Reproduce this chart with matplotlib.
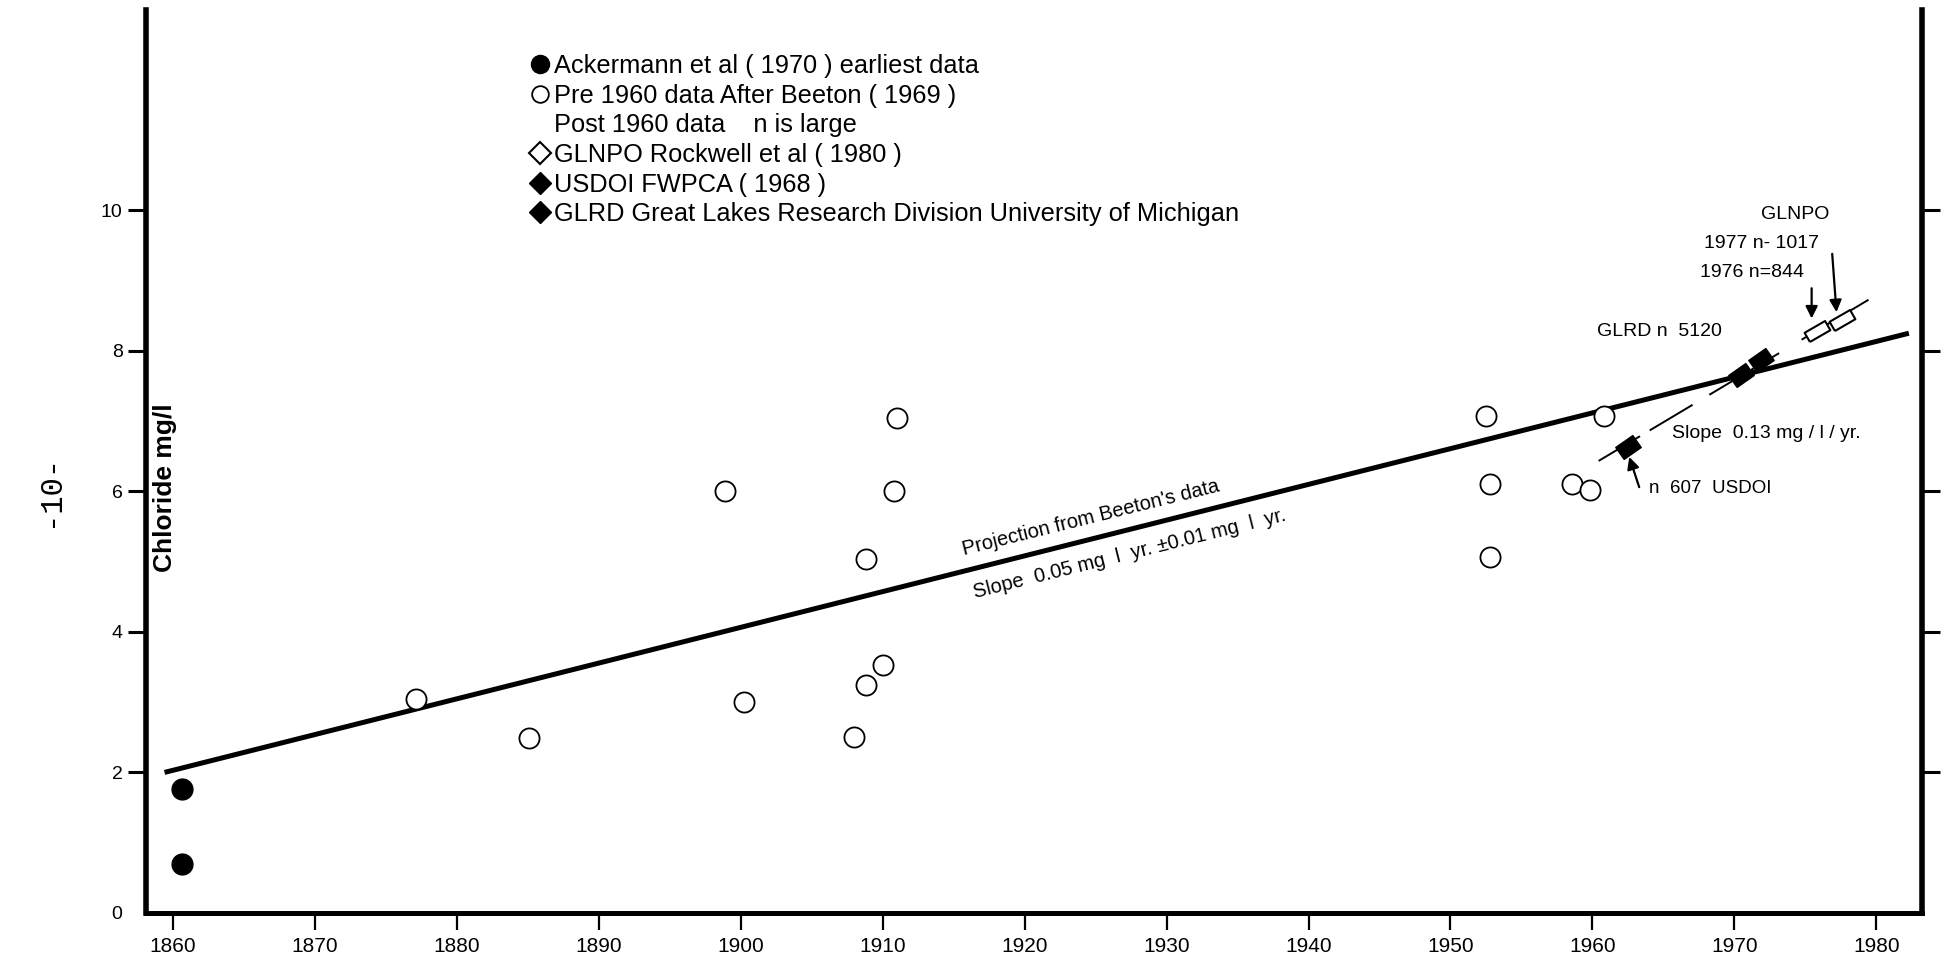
import matplotlib
matplotlib.use("Agg")
import matplotlib.pyplot as plt
from matplotlib.lines import Line2D
from matplotlib.markers import MarkerStyle
from matplotlib.transforms import Affine2D
import numpy as np

# Ackermann et al (1970) earliest data
ack_year = [1860.6, 1860.6]
ack_cl = [1.77, 0.70]

# Pre 1960 data after Beeton (1969)
beeton_year = [1877.1, 1885.1, 1898.9, 1900.2, 1908.0, 1908.8, 1908.8, 1910.0,
               1910.8, 1911.0, 1952.5, 1952.8, 1952.8, 1958.6, 1959.8, 1960.8]
beeton_cl = [3.04, 2.49, 6.01, 3.00, 2.51, 3.25, 5.04, 3.53,
             6.01, 7.05, 7.07, 6.10, 5.07, 6.11, 6.02, 7.07]

# GLNPO Rockwell et al (1980), 1976 and 1977
glnpo_year = [1975.8, 1977.6]
glnpo_cl = [8.28, 8.44]

# USDOI FWPCA (1968)
usdoi_year = [1962.5]
usdoi_cl = [6.63]

# GLRD Great Lakes Research Division
glrd_year = [1970.5, 1971.9]
glrd_cl = [7.65, 7.87]

# projection from Beeton's data (slope 0.05 mg/l/yr)
proj_year = [1859.4, 1982.3]
proj_cl = [2.00, 8.25]

# post 1960 trend (slope ~0.13 mg/l/yr), drawn as broken pieces
post_year0, post_cl0, post_slope = 1960.5, 6.44, 0.1206
post_seg_start = [1960.5, 1964.1, 1968.3, 1974.8]
post_seg_end = [1963.3, 1967.0, 1973.1, 1979.4]

x_ticks = list(range(1860, 1990, 10))
y_ticks = [0, 2, 4, 6, 8, 10]

legend_labels = [
    "Ackermann et al ( 1970 ) earliest data",
    "Pre 1960 data After Beeton ( 1969 )",
    "Post 1960 data    n is large",
    "GLNPO Rockwell et al ( 1980 )",
    "USDOI FWPCA ( 1968 )",
    "GLRD Great Lakes Research Division University of Michigan",
]

plain = ["Liberation Sans", "DejaVu Sans"]

fig = plt.figure(figsize=(19.43, 9.61), dpi=100)
ax = fig.add_axes([0.0752, 0.05, 0.9138, 0.9396])

# tilted box markers like the hand drawn ones
rect_open = MarkerStyle([(-1, -0.45), (1, -0.45), (1, 0.45), (-1, 0.45), (-1, -0.45)],
                        transform=Affine2D().rotate_deg(30))
rect_fill = MarkerStyle([(-1, -0.7), (1, -0.7), (1, 0.7), (-1, 0.7), (-1, -0.7)],
                        transform=Affine2D().rotate_deg(35))

ax.plot(proj_year, proj_cl, color="black", lw=3.6, solid_capstyle="butt", zorder=2)
for a, b in zip(post_seg_start, post_seg_end):
    xs = np.array([a, b])
    ax.plot(xs, post_cl0 + post_slope * (xs - post_year0), color="black", lw=1.4, zorder=2)

ax.plot(ack_year, ack_cl, "o", ms=15, color="black", zorder=3)
ax.plot(beeton_year, beeton_cl, "o", ms=14.5, mfc="white", mec="black", mew=1.3,
        zorder=3, linestyle="none")
ax.plot(glnpo_year, glnpo_cl, linestyle="none", marker=rect_open, ms=17, mfc="white",
        mec="black", mew=1.5, zorder=3)
ax.plot(usdoi_year, usdoi_cl, linestyle="none", marker=rect_fill, ms=15, color="black", zorder=3)
ax.plot(glrd_year, glrd_cl, linestyle="none", marker=rect_fill, ms=15, color="black", zorder=3)

# annotations on the right
ax.text(1974.3, 9.94, "GLNPO", fontsize=14, family=plain, ha="center", va="center")
ax.text(1967.85, 9.52, "1977 n- 1017", fontsize=14, family=plain, ha="left", va="center")
ax.text(1967.55, 9.11, "1976 n=844", fontsize=14, family=plain, ha="left", va="center")
ax.text(1960.3, 8.28, "GLRD n  5120", fontsize=14, family=plain, ha="left", va="center")
ax.text(1965.6, 6.82, "Slope  0.13 mg / l / yr.", fontsize=14, family=plain, ha="left", va="center")
ax.text(1964.0, 6.04, "n  607  USDOI", fontsize=13.5, family=plain, ha="left", va="center")

arrow = dict(arrowstyle="-|>", color="black", lw=1.6, mutation_scale=18, shrinkA=0, shrinkB=0)
ax.annotate("", xy=(1975.45, 8.46), xytext=(1975.45, 8.89), arrowprops=arrow)
ax.annotate("", xy=(1977.2, 8.55), xytext=(1976.9, 9.38), arrowprops=arrow)
ax.annotate("", xy=(1962.6, 6.49), xytext=(1963.3, 6.06), arrowprops=arrow)

# text along the projection line
ax.text(1924.7, 5.62, "Projection from Beeton's data", fontsize=14.5, family=plain,
        rotation=14, ha="center", va="center", rotation_mode="anchor")
ax.text(1927.4, 5.11, "Slope  0.05 mg  l  yr. \u00b10.01 mg  l  yr.", fontsize=14.5, family=plain,
        rotation=14, ha="center", va="center", rotation_mode="anchor")

ax.text(1859.45, 6.05, "Chloride mg/l", fontsize=19, family=plain, fontweight="bold",
        rotation=90, ha="center", va="center")

# legend block
handles = [
    Line2D([], [], ls="none", marker="o", ms=13, color="black"),
    Line2D([], [], ls="none", marker="o", ms=12, mfc="white", mec="black", mew=1.3),
    Line2D([], [], ls="none"),
    Line2D([], [], ls="none", marker="D", ms=11, mfc="white", mec="black", mew=1.5),
    Line2D([], [], ls="none", marker="D", ms=11, color="black"),
    Line2D([], [], ls="none", marker="D", ms=11, color="black"),
]
leg = ax.legend(handles, legend_labels, loc="upper left", bbox_to_anchor=(0.2178, 0.951),
                frameon=False, handlelength=0.6, handletextpad=0.25, labelspacing=0.22,
                borderpad=0, borderaxespad=0, prop={"family": plain, "size": 18.3})

# axes styling
ax.set_xlim(1858.1, 1983.2)
ax.set_ylim(0, 12.85)
ax.set_xticks(x_ticks)
ax.set_xticklabels([str(t) for t in x_ticks], family=plain, fontsize=15)
ax.set_yticks(y_ticks)
ax.set_yticklabels([str(t) for t in y_ticks], family=plain, fontsize=14)
ax.yaxis.get_major_ticks()[0].tick1line.set_visible(False)
ax.tick_params(axis="x", direction="out", length=12, width=1.6, pad=5)
ax.tick_params(axis="y", direction="out", length=13, width=2.2, pad=4,
               right=True, labelright=False)
ax.yaxis.get_major_ticks()[0].tick2line.set_visible(False)
ax.spines["top"].set_visible(False)
for s in ["left", "right"]:
    ax.spines[s].set_linewidth(4)
ax.spines["bottom"].set_linewidth(3.6)

# page number in the margin
fig.text(0.0258, 0.49, "-10-", fontsize=22, family=["Liberation Mono", "DejaVu Sans Mono"],
         rotation=90, ha="center", va="center")

fig.savefig("out.png", dpi=100)
